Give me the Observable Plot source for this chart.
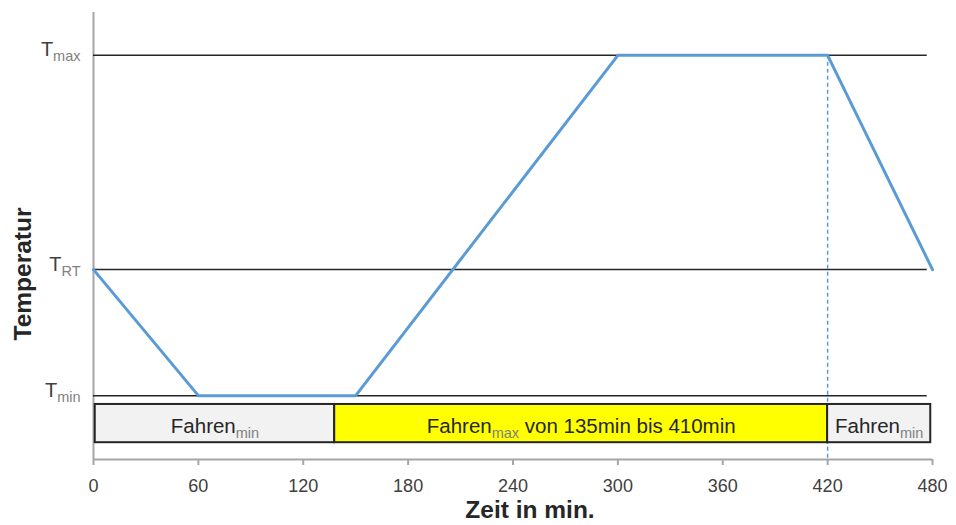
<!DOCTYPE html>
<html>
<head>
<meta charset="utf-8">
<script src="https://cdn.jsdelivr.net/npm/d3@7"></script>
<script src="https://cdn.jsdelivr.net/npm/@observablehq/plot@0.6"></script>
<style>
  html, body { margin: 0; padding: 0; background: #fff; }
</style>
</head>
<body>
<div id="chart"></div>
<script>
// ---- data ----
const xTicks = [0, 60, 120, 180, 240, 300, 360, 420, 480];
const levelNames = ["min", "RT", "max"];
const levelValues = [0, 30, 81];
const levelLabels = ["T_{min}", "T_{RT}", "T_{max}"];
const profileTime = [0, 60, 150, 300, 420, 480];
const profileLevel = ["RT", "min", "min", "max", "max", "RT"];
const segStart = [1, 138, 420];
const segEnd = [138, 420, 479];
const segLabels = ["Fahren_{min}", "Fahren_{max} von 135min bis 410min", "Fahren_{min}"];
const segColors = ["#f2f2f2", "#ffff00", "#f2f2f2"];
const markerTime = 420;
const xTitle = "Zeit in min.";
const yTitle = "Temperatur";

// ---- derived tables ----
const levelOf = Object.fromEntries(levelNames.map((n, i) => [n, levelValues[i]]));
const levels = levelNames.map((n, i) => ({name: n, value: levelValues[i], label: levelLabels[i]}));
const profile = profileTime.map((t, i) => ({t, v: levelOf[profileLevel[i]]}));
const segs = segStart.map((s, i) => ({s, e: segEnd[i], label: segLabels[i], fill: segColors[i]}));

const yDomain = [-15.2, 91.2];
const bandTop = -2.1, bandBottom = -11.2;

const chart = Plot.plot({
  width: 956,
  height: 525,
  marginLeft: 93,
  marginRight: 24,
  marginTop: 12,
  marginBottom: 66,
  style: {fontFamily: "'Liberation Sans', Arial, sans-serif", fontSize: "18px", background: "#fff"},
  x: {domain: [0, 480], axis: null},
  y: {domain: yDomain, axis: null},
  marks: [
    // axis lines
    Plot.ruleX([0], {y1: yDomain[0], y2: yDomain[1], stroke: "#a6a6a6", strokeWidth: 2}),
    Plot.ruleY([yDomain[0]], {x1: 0, x2: 480, stroke: "#a6a6a6", strokeWidth: 2}),
    Plot.axisX({ticks: xTicks, tickSize: 6, tickPadding: 14, stroke: "#a6a6a6", strokeWidth: 2, fill: "#404040", fontSize: 18, tickFormat: d => String(d)}),
    // level lines
    Plot.ruleY(levels, {y: "value", x1: 0, x2: 477, stroke: "#262626", strokeWidth: 1.5}),
    // level labels
    Plot.text(levels, {x: 0, y: "value", text: "label", textAnchor: "end", lineAnchor: "bottom", dx: -13, dy: 1, fontSize: 20, fill: "#404040"}),
    // marker dashed line
    Plot.ruleX([markerTime], {y1: levelOf["max"], y2: yDomain[0], stroke: "#5b9bd5", strokeWidth: 1.5, strokeDasharray: "4,3"}),
    // bands
    Plot.rect(segs, {x1: "s", x2: "e", y1: bandBottom, y2: bandTop, fill: "fill", stroke: "#262626", strokeWidth: 2}),
    Plot.text(segs, {x: d => (d.s + d.e) / 2, y: (bandTop + bandBottom) / 2, text: "label", lineAnchor: "bottom", dy: 9, fontSize: 20.5, fill: "#262626"}),
    // profile
    Plot.line(profile, {x: "t", y: "v", stroke: "#5b9bd5", strokeWidth: 3}),
    // titles
    Plot.text([xTitle], {frameAnchor: "bottom", textAnchor: "middle", lineAnchor: "bottom", dx: 17, dy: 58, fontSize: 24.5, fontWeight: "bold", fill: "#262626"}),
    Plot.text([yTitle], {frameAnchor: "left", textAnchor: "middle", lineAnchor: "bottom", rotate: -90, dx: -63, dy: 38, fontSize: 24.5, fontWeight: "bold", fill: "#262626"})
  ]
});

// subscript rendering for labels like "T_{max}"
d3.select(chart).selectAll("text").each(function() {
  const s = this.textContent;
  const m = s.match(/^(.*?)_\{(.*?)\}(.*)$/);
  if (!m) return;
  const el = d3.select(this);
  el.text(null);
  el.append("tspan").text(m[1]);
  el.append("tspan").attr("dy", 5).attr("font-size", 14.5).attr("fill", "#808080").text(m[2]);
  if (m[3]) el.append("tspan").attr("dy", -5).text(m[3]);
});

document.getElementById("chart").appendChild(chart);
</script>
</body>
</html>
